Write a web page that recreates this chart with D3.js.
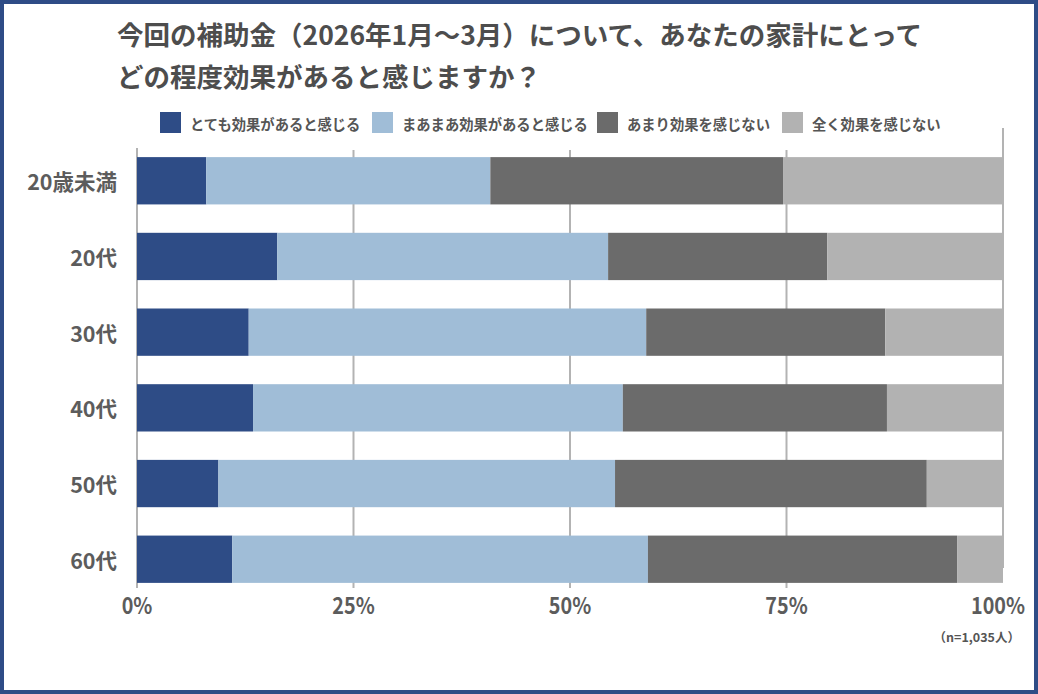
<!DOCTYPE html>
<html><head><meta charset="utf-8">
<script src="https://cdn.jsdelivr.net/npm/d3@7"></script>
<style>
html,body{margin:0;padding:0;background:#fff;}
svg{display:block;font-family:"Noto Sans CJK JP","Noto Sans",sans-serif;font-weight:700;}
</style></head>
<body>
<svg id="chart" width="1038" height="694"></svg>
<script>
const titleLines = ["今回の補助金（2026年1月～3月）について、あなたの家計にとって", "どの程度効果があると感じますか？"];
const categories = ["20歳未満", "20代", "30代", "40代", "50代", "60代"];
const seriesNames = ["とても効果があると感じる", "まあまあ効果があると感じる", "あまり効果を感じない", "全く効果を感じない"];
const seriesColors = ["#2e4c86", "#a0bdd7", "#6b6b6b", "#b2b2b2"];
const veryEffective = [8.0, 16.2, 12.9, 13.4, 9.4, 11.0];
const somewhatEffective = [32.8, 38.2, 45.9, 42.7, 45.8, 48.0];
const notVery = [33.8, 25.3, 27.6, 30.5, 36.0, 35.7];
const notAtAll = [25.4, 20.3, 13.6, 13.4, 8.8, 5.3];
const tickValues = [0, 25, 50, 75, 100];
const tickLabels = ["0%", "25%", "50%", "75%", "100%"];
const noteText = "（n=1,035人）";

const seriesValues = [veryEffective, somewhatEffective, notVery, notAtAll];
const table = categories.map((c, i) => {
  const row = {category: c};
  seriesNames.forEach((s, j) => row[s] = seriesValues[j][i]);
  return row;
});

const svg = d3.select("#chart");
const W = 1038, H = 694;

// frame
svg.append("rect").attr("x", 2).attr("y", 2).attr("width", W - 4).attr("height", H - 4)
  .attr("fill", "#fff").attr("stroke", "#2e4c86").attr("stroke-width", 4);

const x = d3.scaleLinear().domain([0, 100]).range([137, 1003]);
const y = d3.scaleBand().domain(categories).range([150, 590]).paddingInner(0.375).paddingOuter(0.094);

// title
svg.append("g").selectAll("text").data(titleLines).join("text")
  .attr("x", 117).attr("y", (d, i) => 33 + i * 42)
  .attr("dominant-baseline", "central")
  .attr("font-size", 26.5).attr("fill", "#4d4d4d").text(d => d);

// legend
const legendX = [160, 372, 597, 782];
const lg = svg.append("g").selectAll("g").data(seriesNames).join("g")
  .attr("transform", (d, i) => `translate(${legendX[i]},112)`);
lg.append("rect").attr("width", 21).attr("height", 21).attr("fill", (d, i) => seriesColors[i]);
lg.append("text").attr("x", 30).attr("y", 11).attr("dominant-baseline", "central")
  .attr("font-size", 14.3).attr("fill", "#555").text(d => d);

// gridlines
const grid = svg.append("g");
grid.selectAll("line").data(tickValues).join("line")
  .attr("x1", d => x(d)).attr("x2", d => x(d))
  .attr("y1", d => d === 100 ? 128 : (d === 0 ? 148 : 150))
  .attr("y2", d => d === 100 ? 568 : 588)
  .attr("stroke", "#b3b3b3").attr("stroke-width", 2);

// bars
const stack = d3.stack().keys(seriesNames)(table);
svg.append("g").selectAll("g").data(stack).join("g")
  .attr("fill", (d, i) => seriesColors[i])
  .selectAll("rect").data(d => d).join("rect")
  .attr("x", d => x(d[0]))
  .attr("width", d => x(d[1]) - x(d[0]))
  .attr("y", d => y(d.data.category))
  .attr("height", y.bandwidth());

// y labels
svg.append("g").selectAll("text").data(categories).join("text")
  .attr("x", 117).attr("y", d => y(d) + y.bandwidth() / 2)
  .attr("text-anchor", "end").attr("dominant-baseline", "central")
  .attr("font-size", 21.5).attr("fill", "#5c5c5c").text(d => d);

// x tick labels
svg.append("g").selectAll("text").data(tickValues).join("text")
  .attr("transform", (d, i) => `translate(${x(d) - (d === 100 ? 5 : 0)},614) scale(0.86,1)`)
  .attr("text-anchor", "middle")
  .attr("font-size", 23).attr("fill", "#5c5c5c").text((d, i) => tickLabels[i]);

// note
svg.append("text").attr("x", 1020).attr("y", 642).attr("text-anchor", "end")
  .attr("font-size", 12.5).attr("fill", "#555").text(noteText);
</script>
</body></html>
